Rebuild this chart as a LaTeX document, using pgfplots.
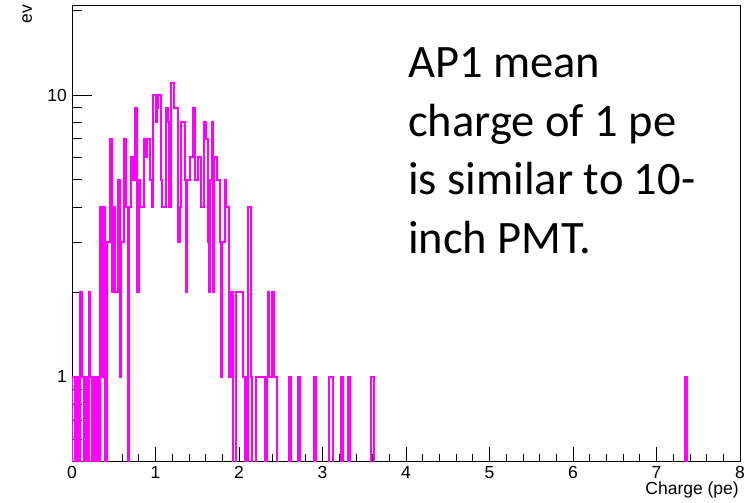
\documentclass[border=0pt]{standalone}
\usepackage{pgfplots}
\pgfplotsset{compat=1.18}
\usepackage{fontspec}
\setmainfont{Liberation Sans}
\newfontfamily\calib{Carlito}
\usetikzlibrary{calc}
\definecolor{rootmag}{RGB}{255,0,255}
\begin{document}
\begin{tikzpicture}
\begin{axis}[
  scale only axis, width=668bp, height=456bp,
  xmin=0, xmax=8, ymode=log, ymin=0.502, ymax=20.87,
  axis line style={line width=0.8bp, black},
  tick pos=left, tick align=inside,
  xtick={0,1,2,3,4,5,6,7,8}, xticklabels={0,1,2,3,4,5,6,7,8},
  minor x tick num=4,
  ytick={1,10}, yticklabels={1,10},
  minor ytick={0.6,0.7,0.8,0.9,2,3,4,5,6,7,8,9,20},
  tick style={line width=0.8bp, black},
  xtick style={/pgfplots/major tick length=14bp, /pgfplots/minor tick length=7bp},
  ytick style={/pgfplots/major tick length=20bp, /pgfplots/minor tick length=10bp},
  tick label style={font=\fontsize{17.5bp}{20bp}\selectfont, inner sep=0pt},
  xticklabel style={anchor=north, yshift=-5bp},
  yticklabel style={anchor=east, xshift=-5bp},
  /pgf/number format/assume math mode=true,
  clip=true,
]
\addplot[const plot mark left, draw=rootmag, line width=2bp, line join=miter, mark=none] coordinates {
(0.00,0.1) (0.00,1) (0.02,1) (0.04,0.1) (0.06,1) (0.08,0.1) (0.10,2) (0.12,1) (0.14,0.1)
(0.16,1) (0.18,0.1) (0.20,2) (0.22,1) (0.24,0.1) (0.26,1) (0.28,0.1) (0.30,1) (0.32,0.1)
(0.34,4) (0.36,1) (0.38,4) (0.40,0.1) (0.42,3) (0.45,7) (0.475,2) (0.50,4) (0.52,2)
(0.545,5) (0.57,1) (0.59,3) (0.62,7) (0.65,4) (0.67,0.1) (0.685,4) (0.71,6) (0.73,5)
(0.755,9) (0.775,2) (0.80,5) (0.82,4) (0.86,7) (0.88,6) (0.90,7) (0.93,5) (0.96,4)
(0.97,10) (1.01,8) (1.02,9) (1.03,10) (1.07,5) (1.08,4) (1.13,9) (1.15,8) (1.16,4)
(1.18,11) (1.22,9) (1.27,3) (1.29,4) (1.31,8) (1.35,5) (1.37,2) (1.38,5) (1.41,6)
(1.445,9) (1.47,5) (1.51,6) (1.55,4) (1.58,8) (1.605,7) (1.63,3) (1.645,2) (1.655,5)
(1.675,8) (1.685,2) (1.695,6) (1.74,5) (1.77,3) (1.79,1) (1.80,3) (1.83,5) (1.85,4)
(1.885,1) (1.90,2) (1.93,0.1) (1.965,2) (2.045,1) (2.07,0.1) (2.08,1) (2.10,0.1)
(2.11,4) (2.14,1) (2.16,0.1) (2.20,1) (2.31,0.1) (2.33,1) (2.35,2) (2.36,1) (2.40,2)
(2.42,1) (2.45,0.1) (2.60,1) (2.62,0.1) (2.71,1) (2.73,0.1) (2.90,1) (2.92,0.1)
(3.08,1) (3.12,0.1) (3.22,1) (3.24,0.1) (3.31,1) (3.33,0.1) (3.58,1) (3.62,0.1)
(7.34,1) (7.36,0.1) (8.00,0.1)
};
\coordinate (ll) at (rel axis cs:0,0);
\coordinate (ur) at (rel axis cs:1,1);
\coordinate (ul) at (rel axis cs:0,1);
\coordinate (lr) at (rel axis cs:1,0);
\end{axis}
\node[rotate=90, anchor=base east, inner sep=0pt, font=\fontsize{17.5bp}{20bp}\selectfont] at ($(ul)+(-40bp,0)$) {ev};
\node[anchor=base east, inner sep=0pt, font=\fontsize{17.5bp}{20bp}\selectfont] at ($(lr)+(-1bp,-33bp)$) {Charge (pe)};
\begin{scope}[every node/.style={anchor=base west, inner sep=0pt, font=\calib\fontsize{46.5bp}{56bp}\selectfont}]
\node at ($(ul)+(336bp,-73bp)$) {AP1 mean};
\node at ($(ul)+(336bp,-131.5bp)$) {charge of 1 pe};
\node at ($(ul)+(336bp,-190bp)$) {is similar to 10-};
\node at ($(ul)+(336bp,-248.5bp)$) {inch PMT.};
\end{scope}
\pgfresetboundingbox
\path[use as bounding box] ($(ll)+(-72bp,-41bp)$) rectangle ($(ur)+(14bp,5bp)$);
\end{tikzpicture}
\end{document}
